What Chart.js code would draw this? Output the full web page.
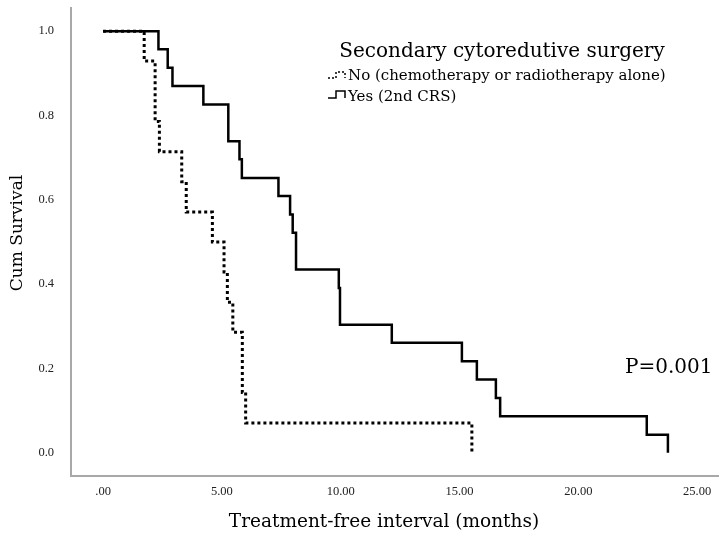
<!DOCTYPE html>
<html>
<head>
<meta charset="utf-8">
<script src="https://cdn.jsdelivr.net/npm/chart.js@4.4.1/dist/chart.umd.min.js"></script>
<style>
    html, body { margin: 0; padding: 0; background: #fff; }
    #wrap { width: 719px; height: 536px; }
</style>
</head>
<body>
<div id="wrap"><canvas id="kmChart" width="719" height="536"></canvas></div>
<script>
// Kaplan-Meier steps (time in months, cumulative survival)
const noTimes = [0, 1.73, 2.19, 2.37, 3.31, 3.50, 4.60, 5.09, 5.23, 5.46, 5.86, 6.00, 15.52];
const noSurv = [1, 0.929, 0.786, 0.714, 0.643, 0.571, 0.500, 0.429, 0.357, 0.286, 0.143, 0.071, 0];

const yesTimes = [0, 2.33, 2.72, 2.92, 4.22, 5.27, 5.74, 5.84, 7.38, 7.87, 7.98, 8.12, 9.92, 9.97, 12.15, 15.10, 15.73, 16.53, 16.71, 22.88, 23.77];
const yesSurv = [1, 0.957, 0.913, 0.870, 0.826, 0.739, 0.696, 0.652, 0.609, 0.565, 0.522, 0.435, 0.391, 0.304, 0.261, 0.217, 0.174, 0.130, 0.087, 0.043, 0];

const xTicks = [0, 5, 10, 15, 20, 25];
const yTicks = [0, 0.2, 0.4, 0.6, 0.8, 1.0];

const legendTitle = 'Secondary cytoredutive surgery';
const noLabel = 'No (chemotherapy or radiotherapy alone)';
const yesLabel = 'Yes (2nd CRS)';
const pValueText = 'P=0.001';
const xTitle = 'Treatment-free interval (months)';
const yTitle = 'Cum Survival';

const serif = "'DejaVu Serif', 'Liberation Serif', serif";
const axisGray = '#a8a8a8';

function toPoints(times, surv) {
    return times.map((t, i) => ({ x: t, y: surv[i] }));
}

// Legend, p-value and axis titles drawn on top of the plot
const annotations = {
    id: 'annotations',
    afterDraw(chart) {
        const ctx = chart.ctx;
        ctx.save();
        ctx.fillStyle = '#000';
        ctx.textBaseline = 'middle';

        ctx.font = '20px ' + serif;
        ctx.textAlign = 'center';
        ctx.fillText(legendTitle, 502, 52);

        ctx.font = '18.5px ' + serif;
        ctx.fillText(xTitle, 384, 522);

        ctx.save();
        ctx.translate(18, 233);
        ctx.rotate(-Math.PI / 2);
        ctx.font = '17px ' + serif;
        ctx.fillText(yTitle, 0, 0);
        ctx.restore();

        ctx.font = '15px ' + serif;
        ctx.textAlign = 'left';
        ctx.fillText(noLabel, 348, 76);
        ctx.fillText(yesLabel, 348, 97);

        // small step glyphs in front of the legend labels
        ctx.strokeStyle = '#000';
        ctx.lineWidth = 1.5;
        ctx.setLineDash([2, 2]);
        ctx.beginPath();
        ctx.moveTo(328, 78); ctx.lineTo(336, 78); ctx.lineTo(336, 72);
        ctx.lineTo(345, 72); ctx.lineTo(345, 78);
        ctx.stroke();
        ctx.setLineDash([]);
        ctx.beginPath();
        ctx.moveTo(328, 98); ctx.lineTo(336, 98); ctx.lineTo(336, 91);
        ctx.lineTo(345, 91); ctx.lineTo(345, 98);
        ctx.stroke();

        ctx.font = '20px ' + serif;
        ctx.fillText(pValueText, 625, 368);
        ctx.restore();
    }
};

const ctx = document.getElementById('kmChart').getContext('2d');

new Chart(ctx, {
    type: 'line',
    data: {
        datasets: [
            {
                label: noLabel,
                data: toPoints(noTimes, noSurv),
                stepped: 'before',
                borderColor: '#000',
                borderWidth: 3,
                borderDash: [3, 3],
                pointRadius: 0,
                fill: false
            },
            {
                label: yesLabel,
                data: toPoints(yesTimes, yesSurv),
                stepped: 'before',
                borderColor: '#000',
                borderWidth: 2.5,
                pointRadius: 0,
                fill: false
            }
        ]
    },
    options: {
        responsive: false,
        animation: false,
        layout: { padding: { top: 8, left: 0, right: 0, bottom: 0 } },
        plugins: {
            legend: { display: false },
            tooltip: { enabled: false }
        },
        scales: {
            x: {
                type: 'linear',
                min: -1.35,
                max: 25.92,
                grid: { display: false, drawTicks: false },
                border: { display: true, color: axisGray, width: 2 },
                afterBuildTicks: scale => { scale.ticks = xTicks.map(v => ({ value: v })); },
                afterFit: scale => {
                    scale.height = 60;
                    scale.paddingLeft = 0;
                    scale.paddingRight = 0;
                },
                ticks: {
                    color: '#222',
                    padding: 8,
                    maxRotation: 0,
                    font: { family: "'Liberation Serif', serif", size: 12.5 },
                    callback: v => v === 0 ? '.00' : v.toFixed(2)
                }
            },
            y: {
                type: 'linear',
                min: -0.055,
                max: 1.055,
                grid: { display: false, drawTicks: false },
                border: { display: true, color: axisGray, width: 2 },
                afterBuildTicks: scale => { scale.ticks = yTicks.map(v => ({ value: v })); },
                afterFit: scale => {
                    scale.width = 71;
                    scale.paddingTop = 0;
                    scale.paddingBottom = 0;
                },
                ticks: {
                    color: '#222',
                    padding: 17,
                    font: { family: "'Liberation Serif', serif", size: 12.5 },
                    callback: v => v.toFixed(1)
                }
            }
        }
    },
    plugins: [annotations]
});
</script>
</body>
</html>
